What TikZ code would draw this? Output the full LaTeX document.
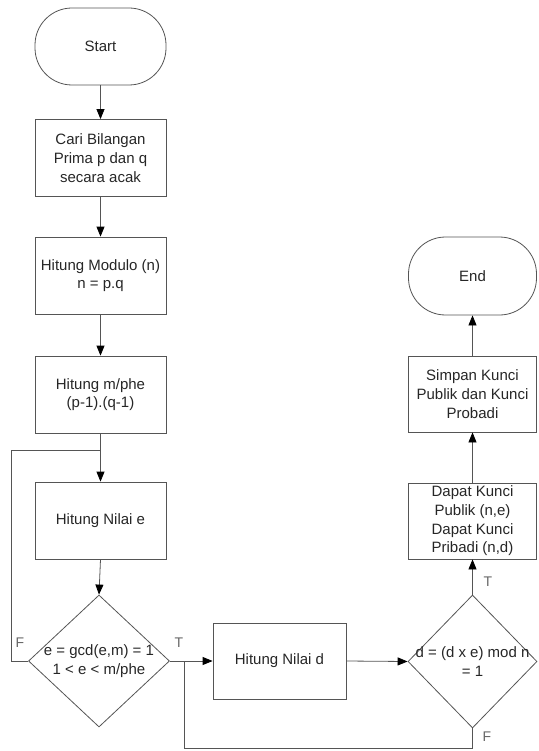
\documentclass[tikz,border=0pt]{standalone}
\usepackage{fontspec}
\setmainfont{Liberation Sans}
\usetikzlibrary{arrows.meta,shapes.geometric}
\definecolor{linec}{RGB}{85,85,85}
\begin{document}
\begin{tikzpicture}[x=1pt,y=-1pt,
 every node/.style={font=\fontsize{15}{18.7}\selectfont, text=black!85},
 proc/.style={draw=linec, line width=0.8pt, minimum width=131pt, minimum height=77pt, align=center, inner sep=2pt},
 term/.style={proc, rounded corners=37pt},
 dec/.style={draw=linec, line width=0.8pt, diamond, inner sep=0pt, minimum width=141pt, minimum height=132pt},
 dectext/.style={align=center, inner sep=0pt},
 flow/.style={draw=linec, line width=0.8pt, -{Triangle[length=10pt,width=8pt,color=black]}},
 conn/.style={draw=linec, line width=0.8pt},
 lab/.style={text=black!60, font=\fontsize{14}{16}\selectfont, inner sep=0pt}
]
\useasboundingbox (0,0) rectangle (538,751);

\node[term] (start) at (100.5,46.5) {Start};
\node[proc] (cari) at (100.5,158) {Cari Bilangan\\Prima p dan q\\secara acak};
\node[proc] (mod) at (100.5,275.5) {Hitung Modulo (n)\\n = p.q};
\node[proc] (phi) at (100.5,394.5) {Hitung m/phe\\(p-1).(q-1)};
\node[proc] (nile) at (100.5,520.5) {Hitung Nilai e};
\node[dec] (d1) at (99,661) {};
\node[dectext] (d1t) at (d1.center) {e = gcd(e,m) = 1\\1 < e < m/phe};
\node[proc, minimum width=133pt, minimum height=76pt] (nild) at (279.5,661) {Hitung Nilai d};
\node[dec, minimum width=129pt, minimum height=133pt] (d2) at (472.5,661.5) {};
\node[dectext] (d2t) at (d2.center) {d = (d x e) mod n\\= 1};
\node[proc, minimum width=128pt, minimum height=76pt] (dapat) at (472.5,521) {Dapat Kunci\\Publik (n,e)\\Dapat Kunci\\Pribadi (n,d)};
\node[proc, minimum width=128pt, minimum height=76pt] (simpan) at (472.5,394) {Simpan Kunci\\Publik dan Kunci\\Probadi};
\node[term, minimum width=128pt, minimum height=78pt] (end) at (472.5,276) {End};

\coordinate (loopA) at (11,661);
\coordinate (loopB) at (11,450);
\coordinate (loopC) at (100.5,450);
\coordinate (brA) at (184,661);
\coordinate (brB) at (184,748);
\coordinate (brC) at (472.5,748);

\draw[flow] (start) -- (cari);
\draw[flow] (cari) -- (mod);
\draw[flow] (mod) -- (phi);
\draw[flow] (phi) -- (nile);
\draw[flow] (nile.south) -- (d1.north);
\draw[conn] (d1.west) -- (loopA) -- (loopB) -- (loopC);
\draw[flow] (d1.east) -- (nild.west);
\draw[conn] (brA) -- (brB) -- (brC) -- (d2.south);
\draw[flow] (nild.east) -- (d2.west);
\draw[flow] (d2.north) -- (dapat.south);
\draw[flow] (dapat) -- (simpan);
\draw[flow] (simpan) -- (end);

\node[lab] (lF1) at (20,643) {F};
\node[lab] (lT1) at (179,643) {T};
\node[lab] (lT2) at (488,582) {T};
\node[lab] (lF2) at (487,737) {F};
\end{tikzpicture}
\end{document}
